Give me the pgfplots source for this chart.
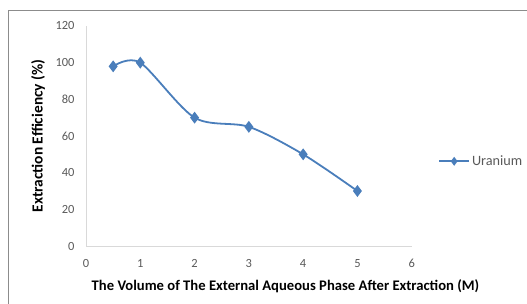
\documentclass[border=0pt]{standalone}
\usepackage{pgfplots}
\pgfplotsset{compat=1.18}
\usepackage{fontspec}
\setmainfont{Carlito}
\definecolor{ser}{HTML}{4A7EBB}
\definecolor{axgray}{HTML}{D9D9D9}
\definecolor{txtgray}{HTML}{595959}
\begin{document}
\begin{tikzpicture}[x=1bp,y=1bp]
\path[use as bounding box] (0,0) rectangle (527,303);
\draw[color=black!45, line width=1bp] (8,-2) -- (8,292) -- (529,292);
\begin{axis}[
  at={(86bp,57bp)}, anchor=origin,
  scale only axis, width=325.7bp, height=220bp,
  xmin=0, xmax=6, ymin=0, ymax=120,
  xtick={0,1,...,6}, ytick={0,20,...,120},
  axis x line*=bottom, axis y line*=left,
  axis line style={axgray, line width=1bp, -},
  major tick length=0pt,
  tick label style={font=\fontsize{12.5}{14}\selectfont, color=txtgray},
  /pgf/number format/assume math mode=true,
  xticklabel style={yshift=-10bp},
  yticklabel style={xshift=-8bp},
  xlabel={\textbf{The Volume of The External Aqueous Phase After Extraction (M)}},
  ylabel={\textbf{Extraction Efficiency (\%)}},
  xlabel style={font=\fontsize{14.7}{16}\selectfont, at={(axis description cs:0.6125,0)}, anchor=center, yshift=-40bp},
  ylabel style={font=\fontsize{15.5}{17}\selectfont, at={(axis description cs:-0.147,0.5)}, anchor=center},
  legend style={at={(axis description cs:1.081,0.385)}, anchor=west, draw=none, fill=none, font=\fontsize{14.3}{15}\selectfont\color{txtgray}, inner sep=0pt},
  legend cell align=left,
  legend image code/.code={
    \draw[#1, mark=none] (0bp,0bp) -- (30bp,0bp);
    \draw[#1, only marks, mark size=3bp] plot coordinates {(15bp,0bp)};
  },
  clip=false,
]
\addplot[ser, line width=1.8bp, smooth, mark=diamond*, mark size=4.5bp, mark options={fill=ser}] coordinates {
(0.5,98) (1,100) (2,70) (3,65) (4,50) (5,30)
};
\addlegendentry{Uranium}
\end{axis}
\end{tikzpicture}
\end{document}
